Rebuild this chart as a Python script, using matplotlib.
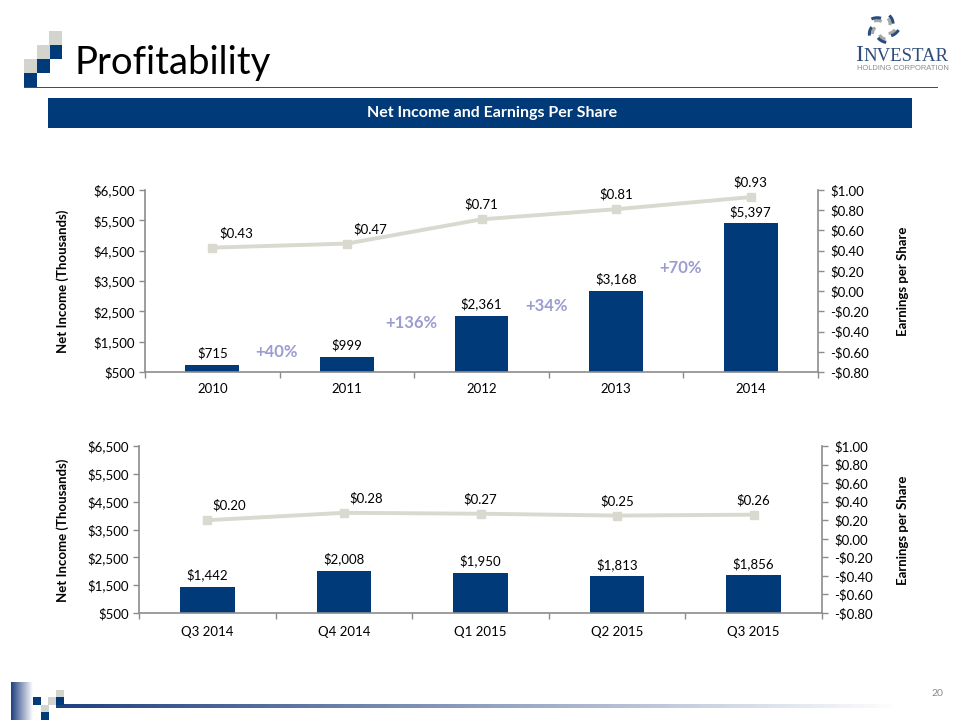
import matplotlib
matplotlib.use("Agg")
import matplotlib.pyplot as plt
import numpy as np
from matplotlib.colors import LinearSegmentedColormap
from matplotlib.patches import Rectangle
from matplotlib.ticker import FuncFormatter

# Daten
years = ["2010", "2011", "2012", "2013", "2014"]
income_annual = [715, 999, 2361, 3168, 5397]
eps_annual = [0.43, 0.47, 0.71, 0.81, 0.93]
growth_labels = ["+40%", "+136%", "+34%", "+70%"]

quarters = ["Q3 2014", "Q4 2014", "Q1 2015", "Q2 2015", "Q3 2015"]
income_quarter = [1442, 2008, 1950, 1813, 1856]
eps_quarter = [0.20, 0.28, 0.27, 0.25, 0.26]

NAVY = "#003A78"
AXIS_GREY = "#8C8C8C"
LINE_GREY = "#D9D9D0"
SQ_GREY = "#D4D4CE"
LAVENDER = "#9C9CD2"
W, H = 960, 720

plt.rcParams["font.family"] = ["Lato", "DejaVu Sans"]

fig = plt.figure(figsize=(W / 100, H / 100), dpi=100)


def box(x0, y0, x1, y1):
    return [x0 / W, 1 - y1 / H, (x1 - x0) / W, (y1 - y0) / H]


def square(x, y, w, h, color):
    fig.add_artist(Rectangle((x / W, 1 - (y + h) / H), w / W, h / H,
                             transform=fig.transFigure, color=color, lw=0))


def ftext(x, y, s, **kw):
    fig.text(x / W, 1 - y / H, s, **kw)


def gradient(x0, y0, x1, y1, c0, c1):
    gax = fig.add_axes(box(x0, y0, x1, y1))
    cmap = LinearSegmentedColormap.from_list("g", [c0, c1])
    gax.imshow(np.linspace(0, 1, 256)[None, :], aspect="auto", cmap=cmap)
    gax.axis("off")


# Kopfzeile
for x, y, c in [(49, 31, SQ_GREY), (49, 45, NAVY), (37, 45, SQ_GREY),
                (37, 59, NAVY), (24, 59, SQ_GREY), (24, 73, NAVY)]:
    square(x, y, 12.5, 14, c)
square(24, 86.5, 914, 1.5, "#2E4E84")
ftext(74, 74, "Profitability", fontsize=27.5, color="black", va="baseline")

# Logo
lax = fig.add_axes(box(866, 13, 900, 44))
lax.set_xlim(-1.2, 1.2)
lax.set_ylim(-1.2, 1.2)
lax.axis("off")
for k in range(5):
    a = np.deg2rad(100 + 72 * k + np.linspace(0, 38, 12))
    for j, (r0, col) in enumerate([(0.55, "#A8A8A0"), (0.8, "#2B4C7E")]):
        r = np.linspace(r0, r0 + 0.3, 12)
        lax.plot(r * np.cos(a), r * np.sin(a), lw=2.2, color=col,
                 solid_capstyle="butt")
ftext(855, 61, "I", fontsize=17, family="Liberation Serif", color="#2F4D7C", va="baseline")
ftext(863, 61, "NVESTAR", fontsize=13.5, family="Liberation Serif", color="#2F4D7C",
      va="baseline")
ftext(857, 70, "HOLDING CORPORATION", fontsize=5.4, family="Liberation Sans",
      color="#8A8A8A", va="baseline")

# Banner
square(48, 98, 864, 30, NAVY)
ftext(492, 113, "Net Income and Earnings Per Share", fontsize=11.5, weight="bold",
      color="white", ha="center", va="center")


def money(v, _):
    return f"${v:,.0f}"


def eps_fmt(v, _):
    return ("-" if v < -1e-9 else "") + f"${abs(v):.2f}"


def draw_chart(rect, cats, income, eps, eps_dx, pad_x):
    ax = fig.add_axes(box(*rect))
    x = np.arange(len(cats))
    ax.bar(x, income, width=0.4, color=NAVY, zorder=2)
    ax.set_xlim(-0.5, len(cats) - 0.5)
    ax.set_ylim(500, 6500)
    ax.set_yticks(range(500, 6501, 1000))
    ax.yaxis.set_major_formatter(FuncFormatter(money))
    ax.set_xticks(x)
    ax.set_xticklabels(cats)
    ax.set_xticks(np.arange(-0.5, len(cats), 1), minor=True)
    ax.tick_params(axis="x", which="major", length=0, pad=pad_x, labelsize=9.5)
    ax.tick_params(axis="x", which="minor", length=4, color=AXIS_GREY, width=1)
    ax.tick_params(axis="y", length=4, color=AXIS_GREY, width=1, pad=3, labelsize=9.5)
    for side in ["top", "right"]:
        ax.spines[side].set_visible(False)
    for side in ["left", "bottom"]:
        ax.spines[side].set_color(AXIS_GREY)
        ax.spines[side].set_linewidth(1.2)
    for xi, v in zip(x, income):
        ax.annotate(f"${v:,}", (xi, v), xytext=(0, 4), textcoords="offset points",
                    ha="center", va="bottom", fontsize=9.5)

    ax2 = ax.twinx()
    ax2.plot(x, eps, color=LINE_GREY, lw=2.8, marker="s", ms=5.5, zorder=3)
    ax2.set_ylim(-0.8, 1.0)
    ax2.set_yticks(np.round(np.arange(-0.8, 1.01, 0.2), 2))
    ax2.yaxis.set_major_formatter(FuncFormatter(eps_fmt))
    ax2.tick_params(axis="y", length=4, color=AXIS_GREY, width=1, pad=5, labelsize=9.5)
    for side in ["top", "left", "bottom"]:
        ax2.spines[side].set_visible(False)
    ax2.spines["right"].set_color(AXIS_GREY)
    ax2.spines["right"].set_linewidth(1.2)
    for xi, e, dx in zip(x, eps, eps_dx):
        ax2.annotate(f"${e:.2f}", (xi, e), xytext=(dx, 6), textcoords="offset points",
                     ha="center", va="bottom", fontsize=9.5)
    return ax


# Jahreswerte
ax_top = draw_chart((145, 190, 818, 372), years, income_annual, eps_annual,
                    [17, 17, 0, 0, 0], 8)
growth_y = [1150, 2110, 2680, 3930]
for i, (lab, gy) in enumerate(zip(growth_labels, growth_y)):
    ax_top.text(i + 0.48, gy, lab, color=LAVENDER, fontsize=12, weight="bold",
                ha="center", va="center")
ftext(63, 281, "Net Income (Thousands)", fontsize=9.5, weight="bold", rotation=90,
      ha="center", va="center")
ftext(903, 281, "Earnings per Share", fontsize=9.5, weight="bold", rotation=90,
      ha="center", va="center")

# Quartalswerte
draw_chart((139, 446, 822, 613), quarters, income_quarter, eps_quarter,
           [16, 16, 0, 0, 0], 9)
ftext(63, 530, "Net Income (Thousands)", fontsize=9.5, weight="bold", rotation=90,
      ha="center", va="center")
ftext(903, 530, "Earnings per Share", fontsize=9.5, weight="bold", rotation=90,
      ha="center", va="center")

# Fusszeile
gradient(11, 682, 33, 720, "#1F3F7F", "#FFFFFF")
gradient(56, 704, 900, 708, "#1F3F7F", "#FFFFFF")
for x, y, c in [(33, 697, NAVY), (48, 697, SQ_GREY), (56, 690, SQ_GREY),
                (56, 697, NAVY), (41, 705, SQ_GREY), (41, 712, NAVY)]:
    square(x, y, 7.5, 7.5, c)
ftext(937, 693, "20", fontsize=7.5, color="#8A8A8A", ha="center", va="center")

fig.savefig("out.png", dpi=100)
